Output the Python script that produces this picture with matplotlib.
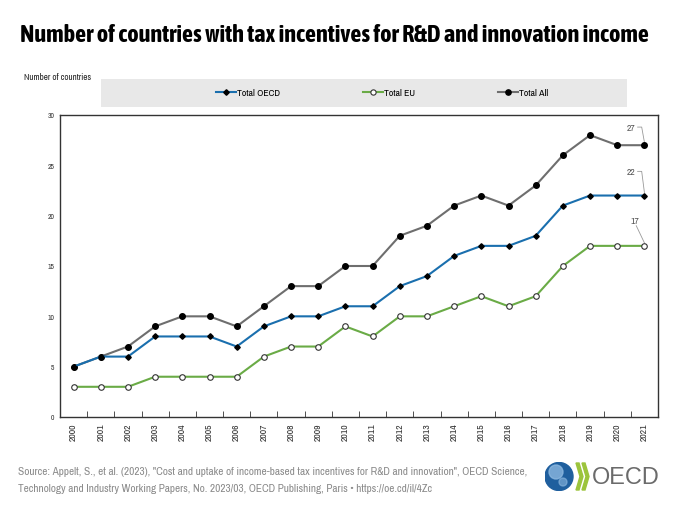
import matplotlib
matplotlib.use('Agg')
import matplotlib.pyplot as plt
from matplotlib import font_manager
from matplotlib.lines import Line2D
from matplotlib.patches import Rectangle, Circle, Polygon

# look for a narrow sans (reference uses Arial Narrow); fall back to Liberation Sans
weights = {}
for f in font_manager.fontManager.ttflist:
    if 'Narrow' in f.name or 'Condensed' in f.name:
        w = f.weight if isinstance(f.weight, int) else 400
        weights.setdefault(f.name, set()).add(w)
narrow = sorted(weights)
narrow_bold = [n for n in narrow if max(weights[n]) >= 600]
BASE = narrow[0] if narrow else 'Liberation Sans'
TITLE_FONT = narrow_bold[0] if narrow_bold else 'Liberation Sans'
plt.rcParams['font.family'] = [BASE, 'Liberation Sans', 'DejaVu Sans']

# data
years = [str(y) for y in range(2000, 2022)]
total_oecd = [5, 6, 6, 8, 8, 8, 7, 9, 10, 10, 11, 11, 13, 14, 16, 17, 17, 18, 21, 22, 22, 22]
total_eu = [3, 3, 3, 4, 4, 4, 4, 6, 7, 7, 9, 8, 10, 10, 11, 12, 11, 12, 15, 17, 17, 17]
total_all = [5, 6, 7, 9, 10, 10, 9, 11, 13, 13, 15, 15, 18, 19, 21, 22, 21, 23, 26, 28, 27, 27]
y_ticks = [0, 5, 10, 15, 20, 25, 30]

COL_OECD = '#1a6fae'
COL_EU = '#6aab46'
COL_ALL = '#6e6e6e'

W, H = 680, 510
fig = plt.figure(figsize=(6.8, 5.1), dpi=100)
renderer = fig.canvas.get_renderer()


def fit_text(t, width_px, start):
    """shrink a text until it fits width_px"""
    size = start
    t.set_fontsize(size)
    while t.get_window_extent(renderer).width > width_px and size > 4:
        size -= 0.1
        t.set_fontsize(size)
    return t


# axes placed in pixel coords: left 60, right 658, top 116, bottom 418
ax = fig.add_axes([60 / W, 1 - 418 / H, 598 / W, 302 / H])
x = list(range(len(years)))

ax.plot(x, total_all, color=COL_ALL, lw=1.5, marker='o', ms=4,
        mfc='black', mec='black', zorder=3)
ax.plot(x, total_oecd, color=COL_OECD, lw=1.5, marker='D', ms=2.8,
        mfc='black', mec='black', zorder=4)
ax.plot(x, total_eu, color=COL_EU, lw=1.5, marker='o', ms=4,
        mfc='white', mec='#333333', mew=0.8, zorder=4)

ax.set_xlim(-0.5, len(years) - 0.5)
ax.set_ylim(0, 30)
ax.set_yticks(y_ticks)
ax.set_yticklabels([str(v) for v in y_ticks], fontsize=5.5, color='#333333')
ax.tick_params(axis='y', length=0, pad=4)

ax.set_xticks(x)
ax.set_xticklabels(years, rotation=90, fontsize=7, color='#333333')
ax.tick_params(axis='x', which='major', length=0, pad=4)
ax.set_xticks([i + 0.5 for i in x[:-1]], minor=True)
ax.tick_params(axis='x', which='minor', length=4, direction='in', color='#333333')

for s in ax.spines.values():
    s.set_color('#333333')
    s.set_linewidth(1.0)

# end labels with leader lines
last = len(years) - 1
for vals, dy, dx, elbow in [(total_all, 1.8, 0.5, True),
                            (total_oecd, 2.4, 0.5, True),
                            (total_eu, 2.5, 0.35, False)]:
    v = vals[-1]
    ax.text(last - dx, v + dy, str(v), fontsize=7, color='#555555',
            ha='center', va='center')
    if elbow:
        ax.plot([last - dx + 0.25, last - 0.1, last], [v + dy, v + dy, v + 0.3],
                color='#999999', lw=0.6, zorder=2)
    else:
        ax.plot([last - dx + 0.05, last], [v + dy - 0.5, v + 0.3],
                color='#999999', lw=0.6, zorder=2)

# y axis title
fig.text(24 / W, 1 - 78 / H, 'Number of countries', fontsize=6.5, color='#222222',
         ha='left', va='center')

# legend band
fig.patches.append(Rectangle((101 / W, 1 - 108 / H), 526 / W, 28 / H,
                             transform=fig.transFigure, facecolor='#e8e8e8',
                             edgecolor='none'))
legend_items = [
    (Line2D([], [], color=COL_OECD, lw=1.5, marker='D', ms=2.8, mfc='black', mec='black'),
     'Total OECD', 216),
    (Line2D([], [], color=COL_EU, lw=1.5, marker='o', ms=3.8, mfc='white', mec='#333333', mew=0.8),
     'Total EU', 363),
    (Line2D([], [], color=COL_ALL, lw=1.5, marker='o', ms=3.8, mfc='black', mec='black'),
     'Total All', 498),
]
for h, lab, px in legend_items:
    fig.legend([h], [lab], loc='center left', bbox_to_anchor=(px / W, 1 - 94 / H),
               frameon=False, fontsize=7, handlelength=2.1, handletextpad=0.1,
               borderpad=0, borderaxespad=0)

# title
title = fig.text(20 / W, 1 - 35 / H,
                 'Number of countries with tax incentives for R&D and innovation income',
                 fontweight='bold', family=[TITLE_FONT, 'Liberation Sans'],
                 color='black', ha='left', va='center')
fit_text(title, 636, 17.5)

# source
src1 = fig.text(18 / W, 1 - 472 / H,
                'Source: Appelt, S., et al. (2023), "Cost and uptake of income-based tax incentives for R&D and innovation", OECD Science,',
                color='#8a8a8a', ha='left', va='center')
fit_text(src1, 512, 8.5)
fig.text(18 / W, 1 - 489 / H,
         'Technology and Industry Working Papers, No. 2023/03, OECD Publishing, Paris \u2022 https://oe.cd/il/4Zc',
         fontsize=src1.get_fontsize(), color='#8a8a8a', ha='left', va='center')

# OECD logo (simplified): globe + two chevrons + wordmark
logo = fig.add_axes([545 / W, 1 - 492 / H, 45 / W, 29 / H])
logo.set_xlim(545, 590)
logo.set_ylim(492, 463)
logo.axis('off')
logo.add_patch(Circle((559, 477.5), 14, color='#1f5f9e'))
logo.add_patch(Circle((556, 473), 7, color='#8cb8e0', alpha=0.8))
logo.add_patch(Circle((563, 483), 4, color='#8cb8e0', alpha=0.6))
for cx in (576, 582):
    logo.add_patch(Polygon([(cx, 464), (cx + 3, 464), (cx + 7, 477.5), (cx + 3, 491),
                            (cx, 491), (cx + 4, 477.5)], closed=True,
                           color='#9cc43c'))
oecd = fig.text(592 / W, 1 - 478 / H, 'OECD', color='#6b6b6b',
                family=['Liberation Sans'], ha='left', va='center')
fit_text(oecd, 68, 19)

fig.savefig('out.png', dpi=100)
